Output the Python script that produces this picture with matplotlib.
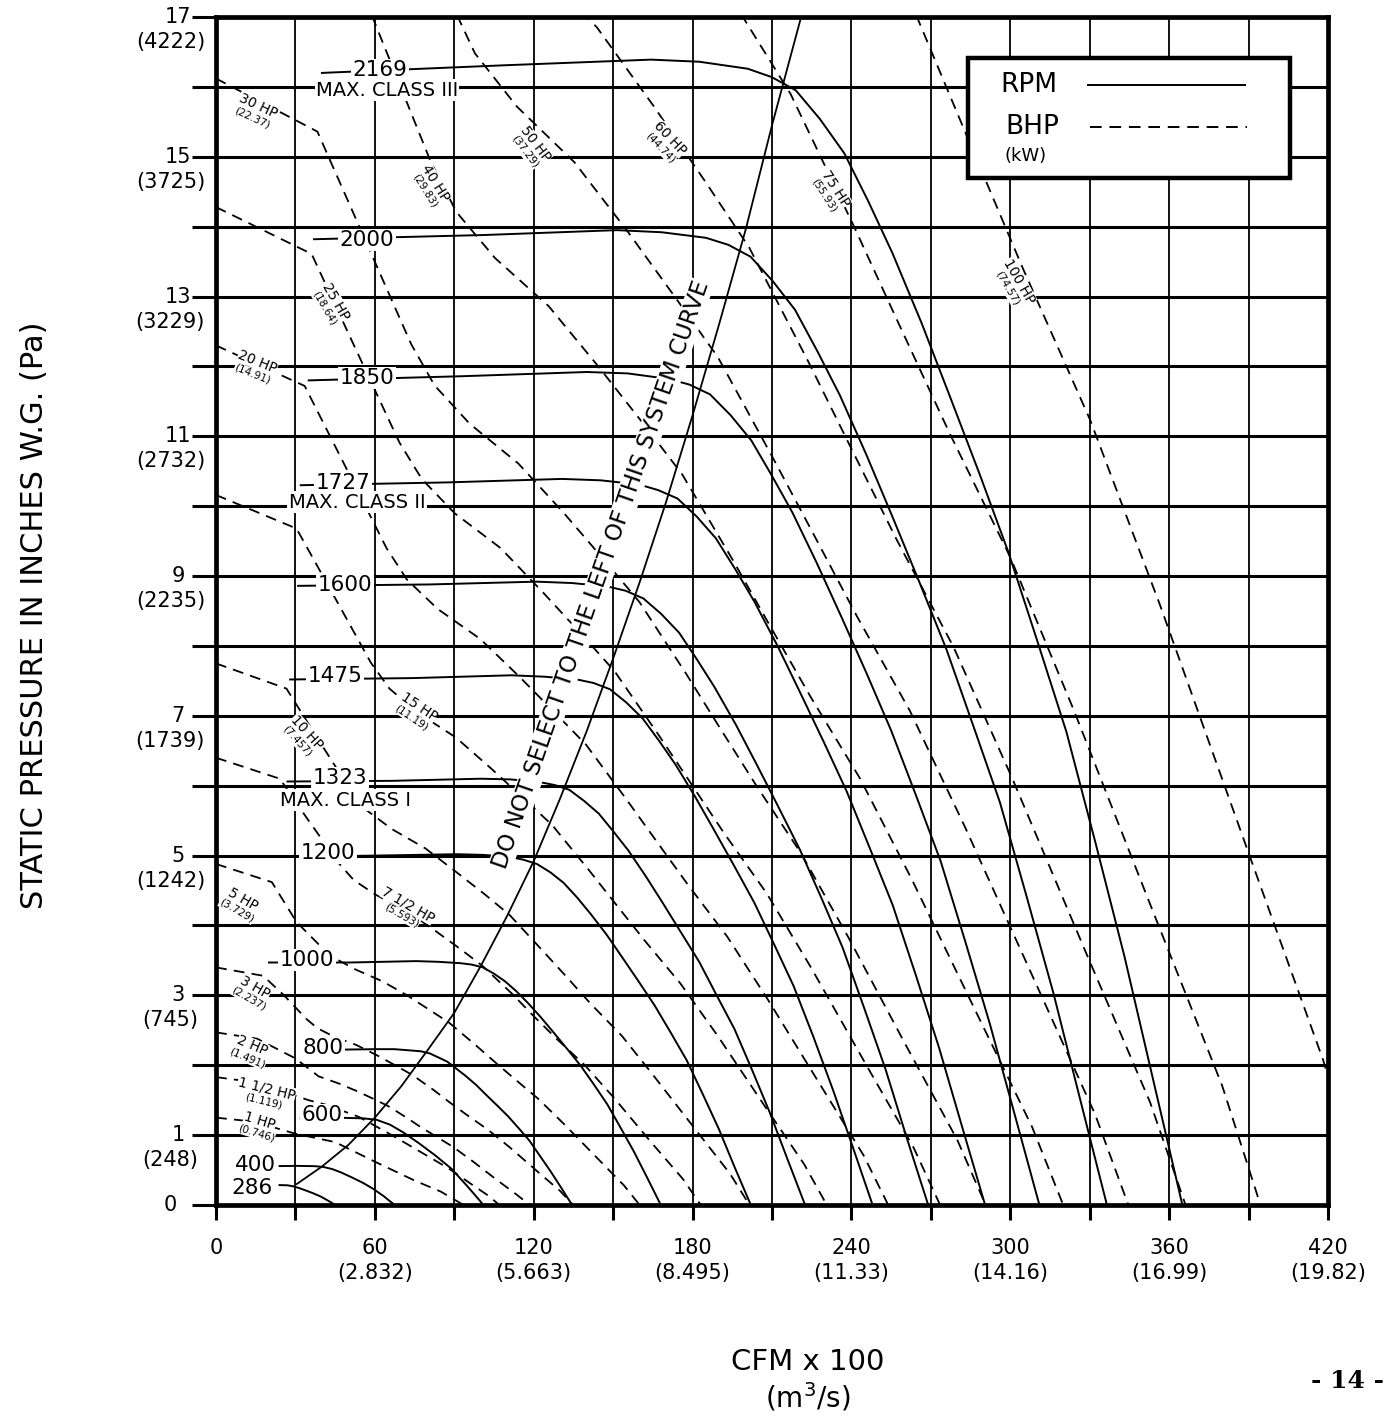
import math
import matplotlib
matplotlib.use("Agg")
import matplotlib.pyplot as plt
import matplotlib.transforms as mtransforms
from matplotlib.patches import Rectangle
from matplotlib.lines import Line2D

plt.rcParams['font.family'] = ['DejaVu Sans']

# ---------------- data: CFM x 100 vs static pressure (in. W.G.) ----------------
rpm_2169_x = [40, 109.5, 164.3, 182.5, 200.8, 209.9, 219.0, 228.1, 237.3, 246.4, 255.5, 266.5, 277.4,
              288.4, 299.3, 310.3, 321.2, 332.2, 343.1, 354.1, 365.0]
rpm_2169_y = [16.20, 16.31, 16.39, 16.36, 16.26, 16.14, 15.95, 15.54, 15.05, 14.36, 13.62, 12.62, 11.55,
              10.46, 9.34, 8.06, 6.77, 5.18, 3.56, 1.77, 0]
rpm_2000_x = [37, 101.0, 151.4, 168.3, 185.1, 193.5, 201.9, 210.3, 218.7, 227.1, 235.6, 245.6, 255.7,
              265.8, 275.9, 286.0, 296.1, 306.2, 316.3, 326.4, 336.5]
rpm_2000_y = [13.82, 13.88, 13.95, 13.92, 13.84, 13.74, 13.57, 13.22, 12.81, 12.22, 11.59, 10.74, 9.83,
              8.90, 7.95, 6.86, 5.76, 4.41, 3.03, 1.51, 0]
rpm_1850_x = [35, 93.3, 140.0, 155.5, 171.1, 178.8, 186.6, 194.4, 202.2, 209.9, 217.7, 227.0, 236.4,
              245.7, 255.0, 264.4, 273.7, 283.0, 292.3, 301.7, 311]
rpm_1850_y = [11.80, 11.86, 11.92, 11.90, 11.82, 11.74, 11.60, 11.30, 10.94, 10.44, 9.91, 9.18, 8.40,
              7.61, 6.79, 5.86, 4.92, 3.77, 2.59, 1.29, 0]
rpm_1727_x = [32, 87.2, 130.7, 145.3, 159.8, 167.0, 174.3, 181.6, 188.8, 196.1, 203.4, 212.1, 220.8,
              229.5, 238.2, 246.9, 255.6, 264.4, 273.1, 281.8, 290.5]
rpm_1727_y = [10.30, 10.34, 10.39, 10.37, 10.31, 10.23, 10.11, 9.85, 9.54, 9.10, 8.63, 8.00, 7.32,
              6.63, 5.92, 5.11, 4.29, 3.28, 2.25, 1.12, 0]
rpm_1600_x = [31, 80.7, 121.1, 134.5, 148.0, 154.7, 161.4, 168.1, 174.9, 181.6, 188.3, 196.4, 204.4,
              212.5, 220.6, 228.7, 236.7, 244.8, 252.9, 260.9, 269]
rpm_1600_y = [8.86, 8.88, 8.92, 8.90, 8.85, 8.79, 8.68, 8.46, 8.19, 7.81, 7.41, 6.87, 6.29,
              5.69, 5.08, 4.39, 3.68, 2.82, 1.94, 0.96, 0]
rpm_1475_x = [28, 74.4, 111.6, 124.0, 136.4, 142.6, 148.8, 155.0, 161.2, 167.4, 173.6, 181.0, 188.5,
              195.9, 203.4, 210.8, 218.2, 225.7, 233.1, 240.6, 248]
rpm_1475_y = [7.52, 7.54, 7.58, 7.56, 7.52, 7.47, 7.38, 7.19, 6.96, 6.64, 6.30, 5.84, 5.34,
              4.84, 4.32, 3.73, 3.13, 2.40, 1.64, 0.82, 0]
rpm_1323_x = [27, 66.8, 100.1, 111.3, 122.4, 127.9, 133.5, 139.1, 144.6, 150.2, 155.8, 162.4, 169.1,
              175.8, 182.5, 189.1, 195.8, 202.5, 209.2, 215.8, 222.5]
rpm_1323_y = [6.06, 6.07, 6.10, 6.09, 6.05, 6.01, 5.94, 5.78, 5.60, 5.34, 5.07, 4.70, 4.30,
              3.89, 3.48, 3.00, 2.52, 1.93, 1.32, 0.66, 0]
rpm_1200_x = [23, 60.6, 90.9, 101.0, 111.1, 116.2, 121.2, 126.3, 131.3, 136.4, 141.4, 147.5, 153.5,
              159.6, 165.6, 171.7, 177.8, 183.8, 189.9, 195.9, 202]
rpm_1200_y = [4.98, 5.00, 5.02, 5.01, 4.98, 4.94, 4.88, 4.76, 4.61, 4.40, 4.17, 3.87, 3.54,
              3.20, 2.86, 2.47, 2.07, 1.59, 1.09, 0.54, 0]
rpm_1000_x = [20, 50.4, 75.6, 84.0, 92.4, 96.6, 100.8, 105.0, 109.2, 113.4, 117.6, 122.6, 127.7,
              132.7, 137.8, 142.8, 147.8, 152.9, 157.9, 163.0, 168]
rpm_1000_y = [3.47, 3.47, 3.49, 3.48, 3.46, 3.44, 3.40, 3.31, 3.20, 3.06, 2.90, 2.69, 2.46,
              2.23, 1.99, 1.72, 1.44, 1.10, 0.76, 0.38, 0]
rpm_800_x = [33, 40.4, 60.5, 67.3, 74.0, 77.3, 80.7, 84.1, 87.4, 90.8, 94.2, 98.2, 102.2,
             106.3, 110.3, 114.3, 118.4, 122.4, 126.4, 130.5, 134.5]
rpm_800_y = [2.21, 2.22, 2.23, 2.23, 2.21, 2.20, 2.17, 2.11, 2.05, 1.95, 1.85, 1.72, 1.57,
             1.42, 1.27, 1.10, 0.92, 0.70, 0.48, 0.24, 0]
rpm_600_x = [32, 45.5, 55.6, 60.6, 65.7, 70.7, 76.8, 82.8, 88.9, 94.9, 98.0, 101]
rpm_600_y = [1.24, 1.25, 1.24, 1.22, 1.15, 1.04, 0.88, 0.71, 0.52, 0.27, 0.135, 0]
rpm_400_x = [24, 30.4, 37.1, 40.5, 43.9, 47.3, 51.3, 55.4, 59.4, 63.5, 65.5, 67.5]
rpm_400_y = [0.557, 0.56, 0.556, 0.545, 0.514, 0.465, 0.395, 0.319, 0.231, 0.122, 0.06, 0]
rpm_286_x = [24, 27.0, 29.3, 31.5, 34.2, 36.9, 39.6, 42.3, 43.7, 45]
rpm_286_y = [0.285, 0.282, 0.266, 0.241, 0.204, 0.165, 0.12, 0.063, 0.031, 0]

system_x = [30.5, 40, 50, 60, 70, 80, 90, 100, 110, 120, 130, 140, 150, 160, 170, 180, 190, 200, 210, 221]
system_y = [0.30, 0.55, 0.86, 1.25, 1.70, 2.22, 2.75, 3.42, 4.14, 4.92, 5.82, 6.78, 7.82, 8.91, 10.06,
            11.30, 12.60, 13.95, 15.45, 17.0]

bhp_1_x = [0, 10, 20, 30, 45, 60, 75, 85, 93.5]
bhp_1_y = [1.25, 1.21, 1.13, 1.02, 0.90, 0.62, 0.35, 0.19, 0]
bhp_1h_x = [0, 14, 27, 35, 42, 54, 65, 75, 88, 96, 103, 107]
bhp_1h_y = [1.83, 1.76, 1.60, 1.50, 1.43, 1.26, 1.03, 0.81, 0.52, 0.31, 0.13, 0]
bhp_2_x = [0, 15.5, 29.9, 38.8, 46.3, 53.2, 59.4, 64.8, 72.0, 77.1, 82.7, 89.6, 96.8, 105.7, 113.5, 118.5]
bhp_2_y = [2.47, 2.38, 2.10, 1.84, 1.74, 1.63, 1.52, 1.42, 1.25, 1.12, 0.99, 0.83, 0.63, 0.37, 0.15, 0]
bhp_3_x = [0, 17.8, 25.7, 34.2, 38.3, 44.5, 53.0, 60.9, 68.1, 74.2, 82.4, 88.2, 94.7, 102.6, 110.8, 121.1, 130.0, 134.9]
bhp_3_y = [3.40, 3.28, 3.00, 2.66, 2.53, 2.41, 2.29, 2.14, 1.99, 1.86, 1.64, 1.47, 1.29, 1.08, 0.83, 0.49, 0.20, 0]
bhp_5_x = [0, 21.1, 30.4, 40.6, 45.4, 52.7, 62.9, 72.2, 80.7, 88.0, 97.7, 104.6, 112.3, 121.7, 131.4, 143.5, 154.1, 160.0]
bhp_5_y = [4.88, 4.62, 4.05, 3.66, 3.52, 3.37, 3.20, 3.00, 2.79, 2.61, 2.30, 2.07, 1.82, 1.52, 1.16, 0.69, 0.28, 0]
bhp_7h_x = [0, 24.1, 34.8, 46.4, 52.0, 60.3, 72.0, 82.6, 92.4, 100.7, 111.9, 119.8, 128.6, 139.3, 150.4, 164.3, 176.4, 183.1]
bhp_7h_y = [6.40, 6.10, 5.51, 4.89, 4.65, 4.44, 4.21, 3.93, 3.66, 3.42, 3.02, 2.71, 2.38, 2.00, 1.53, 0.90, 0.37, 0]
bhp_10_x = [0, 26.6, 38.3, 51.1, 57.2, 66.4, 79.2, 90.9, 101.7, 110.9, 123.1, 131.8, 141.5, 153.3, 165.5, 180.9, 194.1, 201.5]
bhp_10_y = [7.75, 7.39, 6.68, 5.92, 5.64, 5.38, 5.10, 4.76, 4.44, 4.15, 3.65, 3.29, 2.88, 2.42, 1.84, 1.09, 0.45, 0]
bhp_15_x = [0, 30.4, 43.9, 58.5, 65.5, 76.0, 90.6, 104.1, 116.4, 126.9, 140.9, 150.9, 162.0, 175.4, 189.5, 207.0, 222.2, 230.7]
bhp_15_y = [10.16, 9.68, 8.76, 7.76, 7.39, 7.05, 6.69, 6.24, 5.81, 5.44, 4.79, 4.31, 3.78, 3.17, 2.42, 1.43, 0.58, 0]
bhp_20_x = [0, 33.5, 48.3, 64.4, 72.1, 83.7, 99.8, 114.6, 128.1, 139.7, 155.1, 166.1, 178.3, 193.1, 208.6, 227.9, 244.6, 253.9]
bhp_20_y = [12.30, 11.72, 10.61, 9.40, 8.95, 8.53, 8.10, 7.56, 7.04, 6.59, 5.80, 5.22, 4.58, 3.84, 2.93, 1.74, 0.71, 0]
bhp_25_x = [0, 36.1, 52.0, 69.3, 77.7, 90.1, 107.5, 123.4, 138.0, 150.5, 167.1, 178.9, 192.1, 208.0, 224.7, 245.5, 263.5, 273.5]
bhp_25_y = [14.28, 13.61, 12.31, 10.91, 10.39, 9.90, 9.40, 8.77, 8.17, 7.64, 6.73, 6.06, 5.31, 4.46, 3.40, 2.01, 0.82, 0]
bhp_30_x = [0, 38.3, 55.3, 73.7, 82.5, 95.8, 114.2, 131.2, 146.6, 159.9, 177.6, 190.1, 204.1, 221.0, 238.7, 260.8, 280.0, 290.7]
bhp_30_y = [16.12, 15.36, 13.90, 12.32, 11.73, 11.18, 10.61, 9.91, 9.23, 8.63, 7.60, 6.84, 6.00, 5.03, 3.84, 2.27, 0.93, 0]
bhp_40_x = [42.2, 60.8, 81.1, 90.8, 105.4, 125.7, 144.4, 161.4, 176.0, 195.5, 209.2, 224.6, 243.3, 262.8, 287.1, 308.2, 320.0]
bhp_40_y = [18.61, 16.84, 14.93, 14.21, 13.55, 12.86, 12.00, 11.18, 10.46, 9.21, 8.29, 7.27, 6.10, 4.66, 2.76, 1.12, 0]
bhp_50_x = [65.5, 87.4, 97.8, 113.6, 135.4, 155.5, 173.8, 189.6, 210.5, 225.4, 242.0, 262.1, 283.0, 309.3, 332.0, 344.6]
bhp_50_y = [19.54, 17.32, 16.48, 15.72, 14.92, 13.93, 12.97, 12.13, 10.68, 9.62, 8.43, 7.07, 5.40, 3.20, 1.30, 0]
bhp_60_x = [104.0, 120.7, 143.9, 165.2, 184.7, 201.4, 223.7, 239.5, 257.1, 278.5, 300.8, 328.6, 352.8, 366.2]
bhp_60_y = [18.61, 17.75, 16.85, 15.73, 14.65, 13.70, 12.07, 10.86, 9.52, 7.99, 6.10, 3.61, 1.47, 0]
bhp_75_x = [178, 199, 217, 241, 258, 277, 300, 324, 354, 380, 394.5]
bhp_75_y = [18.25, 17.0, 15.9, 14.0, 12.6, 11.05, 9.27, 7.08, 4.19, 1.71, 0]
bhp_100_x = [238.8, 265.2, 284.0, 304.9, 330.2, 356.6, 389.6, 418.2, 434.2]
bhp_100_y = [19.26, 16.96, 15.26, 13.39, 11.23, 8.58, 5.08, 2.07, 0]

y_ticks_in = [17, 15, 13, 11, 9, 7, 5, 3, 1]
y_ticks_pa = ['(4222)', '(3725)', '(3229)', '(2732)', '(2235)', '(1739)', '(1242)', '(745)', '(248)']
x_ticks_cfm = [60, 120, 180, 240, 300, 360, 420]
x_ticks_m3s = ['(2.832)', '(5.663)', '(8.495)', '(11.33)', '(14.16)', '(16.99)', '(19.82)']

rpm_names = ['2169', '2000', '1850', '1727', '1600', '1475', '1323', '1200', '1000', '800', '600', '400', '286']
bhp_names = [('30 HP', '(22.37)'), ('40 HP', '(29.83)'), ('50 HP', '(37.29)'), ('60 HP', '(44.74)'),
             ('75 HP', '(55.93)'), ('100 HP', '(74.57)'), ('25 HP', '(18.64)'), ('20 HP', '(14.91)'),
             ('15 HP', '(11.19)'), ('10 HP', '(7.457)'), ('7 1/2 HP', '(5.593)'), ('5 HP', '(3.729)'),
             ('3 HP', '(2.237)'), ('2 HP', '(1.491)'), ('1 1/2 HP', '(1.119)'), ('1 HP', '(0.746)')]

rpm_curves = [
    (rpm_2169_x, rpm_2169_y), (rpm_2000_x, rpm_2000_y), (rpm_1850_x, rpm_1850_y),
    (rpm_1727_x, rpm_1727_y), (rpm_1600_x, rpm_1600_y), (rpm_1475_x, rpm_1475_y),
    (rpm_1323_x, rpm_1323_y), (rpm_1200_x, rpm_1200_y), (rpm_1000_x, rpm_1000_y),
    (rpm_800_x, rpm_800_y), (rpm_600_x, rpm_600_y), (rpm_400_x, rpm_400_y),
    (rpm_286_x, rpm_286_y),
]
bhp_curves = [
    (bhp_1_x, bhp_1_y), (bhp_1h_x, bhp_1h_y), (bhp_2_x, bhp_2_y), (bhp_3_x, bhp_3_y),
    (bhp_5_x, bhp_5_y), (bhp_7h_x, bhp_7h_y), (bhp_10_x, bhp_10_y), (bhp_15_x, bhp_15_y),
    (bhp_20_x, bhp_20_y), (bhp_25_x, bhp_25_y), (bhp_30_x, bhp_30_y), (bhp_40_x, bhp_40_y),
    (bhp_50_x, bhp_50_y), (bhp_60_x, bhp_60_y), (bhp_75_x, bhp_75_y), (bhp_100_x, bhp_100_y),
]

# ---------------- figure ----------------
W, H = 1387, 1416
fig = plt.figure(figsize=(W / 100, H / 100), dpi=100)
ax = fig.add_axes([216 / W, 1 - 1205 / H, (1328 - 216) / W, (1205 - 17) / H])
ax.set_xlim(0, 420)
ax.set_ylim(0, 17)


def ftext(px, py, s, **kw):
    return fig.text(px / W, 1 - py / H, s, **kw)


white = dict(facecolor='white', edgecolor='none', pad=1.0)

ax.set_axisbelow(True)
ax.set_xticks(range(0, 421, 30))
ax.set_yticks(range(0, 18))
ax.xaxis.grid(True, color='black', lw=1.3)
ax.yaxis.grid(True, color='black', lw=2.2)
ax.tick_params(axis='x', direction='out', length=11, width=2.2, labelbottom=False)
ax.tick_params(axis='y', direction='out', length=17, width=2.2, labelleft=False)
for sp in ax.spines.values():
    sp.set_linewidth(3.4)

for xs, ys in rpm_curves:
    ax.plot(xs, ys, color='black', lw=1.4, zorder=3)
for xs, ys in bhp_curves:
    ax.plot(xs, ys, color='black', lw=1.3, dashes=(6, 4), zorder=3)
ax.plot(system_x, system_y, color='black', lw=1.3, zorder=3)

# y tick labels (in. W.G. over Pa)
ytr = ax.get_yaxis_transform()
ytr_pa = mtransforms.offset_copy(ytr, fig=fig, y=-25, units='dots')
for v, pa in zip(y_ticks_in, y_ticks_pa):
    ax.text(-0.034, v, str(v), transform=ytr, ha='center', va='center', fontsize=15)
    ax.text(-0.041, v, pa, transform=ytr_pa, ha='center', va='center', fontsize=15)
ax.text(-0.041, 0, '0', transform=ytr, ha='center', va='center', fontsize=15)

xtr = ax.get_xaxis_transform()
ax.text(0, -0.036, '0', transform=xtr, ha='center', va='center', fontsize=15)
for v, m in zip(x_ticks_cfm, x_ticks_m3s):
    ax.text(v, -0.036, str(v), transform=xtr, ha='center', va='center', fontsize=15)
    ax.text(v, -0.057, m, transform=xtr, ha='center', va='center', fontsize=15)

ftext(35, 615, 'STATIC PRESSURE IN INCHES W.G. (Pa)', rotation=90,
      ha='center', va='center', fontsize=22)
ftext(808, 1362, 'CFM x 100', ha='center', va='center', fontsize=21)
ftext(808, 1397, '(m$^3$/s)', ha='center', va='center', fontsize=20)
ftext(1384, 1381, '- 14 -', ha='right', va='center', fontsize=18,
      family='DejaVu Serif', weight='bold')

# RPM labels
rpm_label_pos = [(380, 70), (367, 240), (367, 378), (343, 483), (345, 585), (335, 676),
                 (340, 778), (328, 853), (307, 960), (323, 1048), (322, 1115), (255, 1165),
                 (252, 1188)]
for s, (px, py) in zip(rpm_names, rpm_label_pos):
    ftext(px, py, s, ha='center', va='center', fontsize=15.5, bbox=white)

for s, px, py in [('MAX. CLASS III', 387, 90), ('MAX. CLASS II', 357, 502),
                  ('MAX. CLASS I', 345, 800)]:
    ftext(px, py, s, ha='center', va='center', fontsize=14, bbox=white)

# BHP labels: (centre px, py, rotation)
bhp_label_pos = [(255, 112, -25), (430, 187, -58), (530, 148, -53), (665, 143, -47),
                 (830, 192, -57), (1013, 285, -60), (330, 305, -60), (255, 368, -22),
                 (415, 712, -34), (302, 737, -48), (405, 910, -30), (240, 905, -30),
                 (252, 993, -30), (250, 1052, -23), (265, 1095, -14), (258, 1127, -17)]
for (hp, kw), (px, py, rot) in zip(bhp_names, bhp_label_pos):
    r = math.radians(rot)
    ux, uy = -math.sin(r), -math.cos(r)   # text "up" direction in page pixels
    d = 6.5
    ftext(px + ux * d, py + uy * d, hp, ha='center', va='center', fontsize=10, rotation=rot,
          rotation_mode='anchor', bbox=dict(facecolor='white', edgecolor='none', pad=0.3))
    ftext(px - ux * d, py - uy * d, kw, ha='center', va='center', fontsize=7.5, rotation=rot,
          rotation_mode='anchor', bbox=dict(facecolor='white', edgecolor='none', pad=0.3))

ftext(601, 575, 'DO NOT SELECT TO THE LEFT OF THIS SYSTEM CURVE', ha='center', va='center',
      fontsize=16.5, rotation=70.9, rotation_mode='anchor',
      bbox=dict(facecolor='white', edgecolor='none', pad=0.5))

# legend box
fig.patches.append(Rectangle((968 / W, 1 - 178 / H), (1290 - 968) / W, (178 - 58) / H,
                             transform=fig.transFigure, facecolor='white',
                             edgecolor='black', lw=3.2, zorder=4))
fig.lines.append(Line2D([1088 / W, 1245 / W], [1 - 85 / H, 1 - 85 / H],
                        transform=fig.transFigure, color='black', lw=1.4, zorder=5))
fig.lines.append(Line2D([1090 / W, 1247 / W], [1 - 127 / H, 1 - 127 / H],
                        transform=fig.transFigure, color='black', lw=1.4, dashes=(6, 4), zorder=5))
ftext(1000, 85, 'RPM', ha='left', va='center', fontsize=19, zorder=6)
ftext(1005, 127, 'BHP', ha='left', va='center', fontsize=19, zorder=6)
ftext(1005, 156, '(kW)', ha='left', va='center', fontsize=13, zorder=6)

fig.savefig('out.png', dpi=100)
